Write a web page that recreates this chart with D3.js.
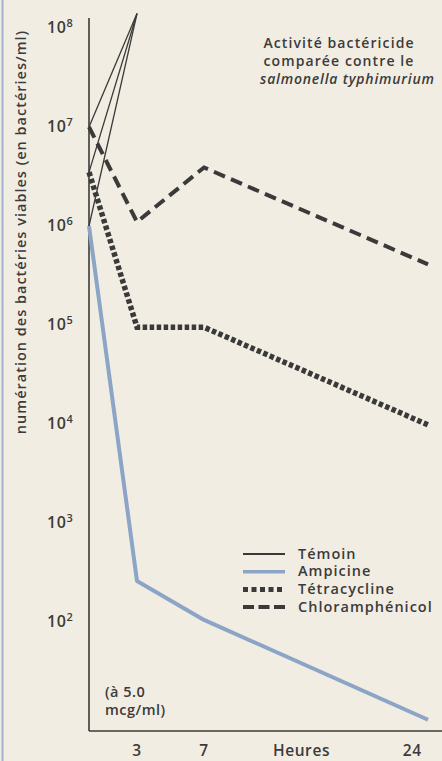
<!DOCTYPE html>
<html><head><meta charset="utf-8">
<script src="https://cdn.jsdelivr.net/npm/d3@7"></script>
<style>
html,body{margin:0;padding:0;background:#f2ede2;}
svg{display:block;}
text{font-family:"Open Sans","Noto Sans",sans-serif;fill:#3b3b3b;font-weight:600;}
</style></head>
<body>
<script>
// ---- data ----
const hours = [0, 3, 7, 24];
const hourLabels = ["3", "7", "Heures", "24"];
const yTickValues = [1e2, 1e3, 1e4, 1e5, 1e6, 1e7, 1e8];
const temoinStarts = [1e7, 3.5e6, 1e6];
const temoinAt3h = 1.4e8;
const ampicine = [1e6, 2.6e2, 1.05e2, 10.3];
const tetracycline = [3.5e6, 9.5e4, 9.5e4, 9.8e3];
const chloramphenicol = [1e7, 1.1e6, 3.9e6, 4.1e5];
const legendNames = ["Témoin", "Ampicine", "Tétracycline", "Chloramphénicol"];
const titleLines = ["Activité bactéricide", "comparée contre le", "salmonella typhimurium"];
const yLabel = "numération des bactéries viables (en bactéries/ml)";
const noteLines = ["(à 5.0", "mcg/ml)"];

const W = 442, H = 761;
const plotLeft = 89, plotTop = 18, plotBottom = 731;
const ink = "#3a3a3a", blue = "#8ca5c6";

const svg = d3.select("body").append("svg").attr("width", W).attr("height", H);
svg.append("rect").attr("width", W).attr("height", H).attr("fill", "#f2ede2");
svg.append("line").attr("x1", 2.5).attr("x2", 2.5).attr("y1", 0).attr("y2", H)
  .attr("stroke", "#9fb3cf").attr("stroke-width", 2);

const x = d3.scaleLinear().domain(hours).range([89, 137, 204, 428]);
const y = d3.scaleLog().domain([1e8, 1e1]).range([28, 721]);

// axes lines
svg.append("line").attr("x1", plotLeft).attr("x2", plotLeft).attr("y1", plotTop).attr("y2", plotBottom)
  .attr("stroke", ink).attr("stroke-width", 1.6);
svg.append("line").attr("x1", plotLeft).attr("x2", W).attr("y1", plotBottom).attr("y2", plotBottom)
  .attr("stroke", ink).attr("stroke-width", 1.6);

// y tick labels
const yt = svg.append("g").selectAll("text").data(yTickValues).join("text")
  .attr("x", 47).attr("y", d => y(d) + 5)
  .attr("font-size", 16).attr("letter-spacing", 0.6);
yt.append("tspan").text("10");
yt.append("tspan").attr("dy", -6).attr("font-size", 11).text(d => Math.round(Math.log10(d)));

// x tick labels
const xLabelPos = [3, 7, 14.4, 22.8];
svg.append("g").selectAll("text").data(hourLabels).join("text")
  .attr("x", (d, i) => x(xLabelPos[i])).attr("y", 756)
  .attr("text-anchor", "middle").attr("font-size", 15.5).attr("letter-spacing", 0.6)
  .text(d => d);

// y axis label
svg.append("text").attr("transform", "translate(26,232) rotate(-90)")
  .attr("text-anchor", "middle").attr("font-size", 14.5).attr("letter-spacing", 1)
  .text(yLabel);

// title
svg.append("g").selectAll("text").data(titleLines).join("text")
  .attr("x", (d, i) => i === 2 ? 260 : 339).attr("y", (d, i) => 48 + i * 18)
  .attr("text-anchor", (d, i) => i === 2 ? "start" : "middle")
  .attr("font-size", 14).attr("letter-spacing", (d, i) => i === 2 ? 0.8 : 1.1)
  .attr("font-style", (d, i) => i === 2 ? "italic" : "normal")
  .text(d => d);

// note
svg.append("g").selectAll("text").data(noteLines).join("text")
  .attr("x", 105).attr("y", (d, i) => 697 + i * 18)
  .attr("font-size", 14.5).attr("letter-spacing", 0.5).text(d => d);

const line = d3.line().x(d => x(d[0])).y(d => y(d[1]));
const pts = arr => arr.map((v, i) => [hours[i], v]);

// Témoin
svg.append("g").selectAll("path").data(temoinStarts).join("path")
  .attr("d", d => line([[0, d], [3, temoinAt3h]]))
  .attr("fill", "none").attr("stroke", ink).attr("stroke-width", 1.3);

// Chloramphenicol
svg.append("path").attr("d", line(pts(chloramphenicol)))
  .attr("fill", "none").attr("stroke", ink).attr("stroke-width", 4)
  .attr("stroke-dasharray", "12,6.5");
// Tetracycline
svg.append("path").attr("d", line(pts(tetracycline)))
  .attr("fill", "none").attr("stroke", ink).attr("stroke-width", 5.5)
  .attr("stroke-dasharray", "4.5,2.5");
// Ampicine
svg.append("path").attr("d", line(pts(ampicine)))
  .attr("fill", "none").attr("stroke", blue).attr("stroke-width", 4)
  .attr("stroke-linejoin", "round");

// legend
const styles = [
  {stroke: ink, w: 1.8, dash: null},
  {stroke: blue, w: 3.5, dash: null},
  {stroke: ink, w: 5, dash: "5,3.5"},
  {stroke: ink, w: 4, dash: "11,4.5"}
];
const lg = svg.append("g").selectAll("g").data(legendNames).join("g")
  .attr("transform", (d, i) => `translate(243,${554 + i * 17.7})`);
lg.append("line").attr("x1", 0).attr("x2", 42).attr("y1", 0).attr("y2", 0)
  .attr("stroke", (d, i) => styles[i].stroke).attr("stroke-width", (d, i) => styles[i].w)
  .attr("stroke-dasharray", (d, i) => styles[i].dash);
lg.append("text").attr("x", 55).attr("y", 4.5).attr("font-size", 14.5).attr("letter-spacing", 1)
  .text(d => d);
</script>
</body></html>
